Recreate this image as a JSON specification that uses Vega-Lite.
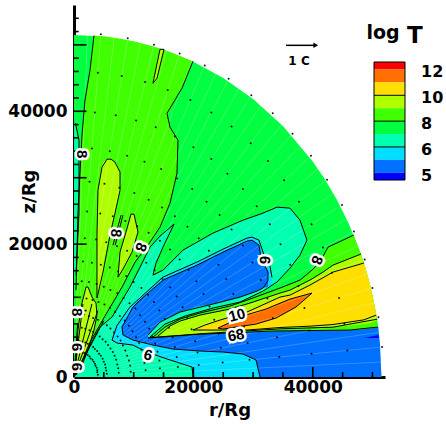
{"$schema":"https://vega.github.io/schema/vega-lite/v6.json","width":311,"height":372,"autosize":"none","padding":{"left":74,"top":5,"right":61,"bottom":47},"background":"white","view":{"stroke":null},
"datasets":{
"bands":[{"b":"7","id":"a01","x":0,"y":51500,"y2":0},{"b":"7","id":"a01","x":5000,"y":51257,"y2":0},{"b":"7","id":"a01","x":10000,"y":50520,"y2":0},{"b":"7","id":"a01","x":15000,"y":49267,"y2":0},{"b":"7","id":"a01","x":20000,"y":47460,"y2":0},{"b":"7","id":"a01","x":25000,"y":45025,"y2":0},{"b":"7","id":"a01","x":30000,"y":41860,"y2":0},{"b":"7","id":"a01","x":35000,"y":37780,"y2":0},{"b":"7","id":"a01","x":40000,"y":32440,"y2":0},{"b":"7","id":"a01","x":42000,"y":29800,"y2":0},{"b":"7","id":"a01","x":44000,"y":26760,"y2":0},{"b":"7","id":"a01","x":46000,"y":23160,"y2":0},{"b":"7","id":"a01","x":48000,"y":18660,"y2":0},{"b":"7","id":"a01","x":49000,"y":15860,"y2":0},{"b":"7","id":"a01","x":50000,"y":12340,"y2":0},{"b":"7","id":"a01","x":50500,"y":10100,"y2":0},{"b":"7","id":"a01","x":51000,"y":7150,"y2":0},{"b":"7","id":"a01","x":51500,"y":0,"y2":0},
{"b":"8","id":"a02","x":335,"y":13080,"y2":300},{"b":"8","id":"a02","x":670,"y":24820,"y2":1050},{"b":"8","id":"a02","x":1340,"y":36400,"y2":2560},{"b":"8","id":"a02","x":1840,"y":41660,"y2":3760},{"b":"8","id":"a02","x":2680,"y":46170,"y2":5260},{"b":"8","id":"a02","x":3350,"y":51390,"y2":6320},{"b":"8","id":"a02","x":5190,"y":51240,"y2":9170},{"b":"8","id":"a02","x":8040,"y":50870,"y2":13540},{"b":"8","id":"a02","x":10220,"y":50480,"y2":17300},{"b":"8","id":"a02","x":12400,"y":49980,"y2":19850},{"b":"8","id":"a02","x":14400,"y":49450,"y2":22560},{"b":"8","id":"a02","x":16080,"y":48920,"y2":26170},{"b":"8","id":"a02","x":17250,"y":48520,"y2":30680},{"b":"8","id":"a02","x":17420,"y":48460,"y2":35640},{"b":"8","id":"a02","x":17430,"y":48450,"y2":42860},{"b":"8","id":"a02","x":18090,"y":48220,"y2":43470},{"b":"8","id":"a02","x":19930,"y":47490,"y2":47490},
{"b":"7","id":"a03","x":15580,"y":39400,"y2":39400},{"b":"7","id":"a03","x":16080,"y":39900,"y2":37600},{"b":"7","id":"a03","x":17420,"y":42860,"y2":35640},
{"b":"6","id":"a04","x":0,"y":0,"y2":0},{"b":"6","id":"a04","x":2680,"y":4810,"y2":0},{"b":"6","id":"a04","x":4360,"y":7520,"y2":0},{"b":"6","id":"a04","x":6370,"y":9020,"y2":0},{"b":"6","id":"a04","x":9380,"y":13540,"y2":0},{"b":"6","id":"a04","x":11060,"y":16540,"y2":0},{"b":"6","id":"a04","x":12730,"y":19550,"y2":0},{"b":"6","id":"a04","x":14410,"y":21210,"y2":0},{"b":"6","id":"a04","x":16750,"y":23010,"y2":0},{"b":"6","id":"a04","x":16760,"y":17750,"y2":0},{"b":"6","id":"a04","x":18260,"y":19100,"y2":0},{"b":"6","id":"a04","x":23280,"y":21660,"y2":0},{"b":"6","id":"a04","x":28310,"y":23610,"y2":0},{"b":"6","id":"a04","x":31660,"y":24670,"y2":0},{"b":"6","id":"a04","x":31670,"y":24680,"y2":12930},{"b":"6","id":"a04","x":33330,"y":25100,"y2":13690},{"b":"6","id":"a04","x":34000,"y":25570,"y2":14290},{"b":"6","id":"a04","x":36180,"y":25420,"y2":16390},{"b":"6","id":"a04","x":37860,"y":23610,"y2":18350},{"b":"6","id":"a04","x":39030,"y":20600,"y2":20600},
{"b":"7","id":"a05","x":13230,"y":15340,"y2":15340},{"b":"7","id":"a05","x":13740,"y":17150,"y2":15500},{"b":"7","id":"a05","x":14910,"y":19550,"y2":16090},{"b":"7","id":"a05","x":16750,"y":23010,"y2":17750},
{"b":"5","id":"a06","x":6370,"y":5560,"y2":5560},{"b":"5","id":"a06","x":6700,"y":7070,"y2":5380},{"b":"5","id":"a06","x":7200,"y":7740,"y2":5110},{"b":"5","id":"a06","x":8040,"y":8870,"y2":5020},{"b":"5","id":"a06","x":9380,"y":10530,"y2":4870},{"b":"5","id":"a06","x":9880,"y":11030,"y2":4810},{"b":"5","id":"a06","x":11060,"y":12030,"y2":4290},{"b":"5","id":"a06","x":12230,"y":12950,"y2":3760},{"b":"5","id":"a06","x":14910,"y":15040,"y2":2920},{"b":"5","id":"a06","x":15580,"y":15310,"y2":2710},{"b":"5","id":"a06","x":19770,"y":16970,"y2":1500},{"b":"5","id":"a06","x":19930,"y":17030,"y2":0},{"b":"5","id":"a06","x":20600,"y":17300,"y2":0},{"b":"5","id":"a06","x":24960,"y":19250,"y2":0},{"b":"5","id":"a06","x":28980,"y":20910,"y2":0},{"b":"5","id":"a06","x":29820,"y":21060,"y2":0},{"b":"5","id":"a06","x":30990,"y":20600,"y2":0},{"b":"5","id":"a06","x":31830,"y":18350,"y2":0},{"b":"5","id":"a06","x":32830,"y":16690,"y2":0},{"b":"5","id":"a06","x":33170,"y":15000,"y2":0},
{"b":"4","id":"a07","x":8040,"y":7520,"y2":7220},{"b":"4","id":"a07","x":8210,"y":7820,"y2":6320},{"b":"4","id":"a07","x":9880,"y":10530,"y2":5560},{"b":"4","id":"a07","x":11060,"y":11580,"y2":5300},{"b":"4","id":"a07","x":13230,"y":13280,"y2":4810},{"b":"4","id":"a07","x":14910,"y":14590,"y2":4510},{"b":"4","id":"a07","x":16580,"y":15250,"y2":4210},{"b":"4","id":"a07","x":20600,"y":16840,"y2":3950},{"b":"4","id":"a07","x":21100,"y":17070,"y2":3910},{"b":"4","id":"a07","x":24960,"y":18800,"y2":3760},{"b":"4","id":"a07","x":28310,"y":20180,"y2":3460},{"b":"4","id":"a07","x":28980,"y":20450,"y2":3180},{"b":"4","id":"a07","x":29820,"y":20600,"y2":2840},{"b":"4","id":"a07","x":30490,"y":20170,"y2":2560},{"b":"4","id":"a07","x":30990,"y":19850,"y2":640},{"b":"4","id":"a07","x":31160,"y":19000,"y2":0},{"b":"4","id":"a07","x":31320,"y":18050,"y2":0},{"b":"4","id":"a07","x":32500,"y":15790,"y2":0},{"b":"4","id":"a07","x":32510,"y":6920,"y2":0},{"b":"4","id":"a07","x":36180,"y":6920,"y2":0},{"b":"4","id":"a07","x":46230,"y":7070,"y2":0},{"b":"4","id":"a07","x":50950,"y":7520,"y2":0},{"b":"4","id":"a07","x":51260,"y":5000,"y2":0},{"b":"4","id":"a07","x":51500,"y":0,"y2":0},
{"b":"6","id":"a08","x":12400,"y":6320,"y2":5870},{"b":"6","id":"a08","x":14410,"y":8270,"y2":5990},{"b":"6","id":"a08","x":17760,"y":9780,"y2":6170},{"b":"6","id":"a08","x":21100,"y":10680,"y2":6440},{"b":"6","id":"a08","x":23280,"y":10980,"y2":6620},{"b":"6","id":"a08","x":26130,"y":11580,"y2":6650},{"b":"6","id":"a08","x":27810,"y":12030,"y2":6700},{"b":"6","id":"a08","x":30650,"y":12930,"y2":6800},{"b":"6","id":"a08","x":31660,"y":13390,"y2":6860},{"b":"6","id":"a08","x":33330,"y":13690,"y2":6920},
{"b":"7","id":"a09","x":12730,"y":6020,"y2":5870},{"b":"7","id":"a09","x":15240,"y":7970,"y2":6050},{"b":"7","id":"a09","x":18590,"y":9170,"y2":6210},{"b":"7","id":"a09","x":23280,"y":10380,"y2":6620},{"b":"7","id":"a09","x":26130,"y":10980,"y2":6650},{"b":"7","id":"a09","x":27810,"y":11280,"y2":6700},{"b":"7","id":"a09","x":31660,"y":12930,"y2":6860},{"b":"7","id":"a09","x":33330,"y":13690,"y2":6920},
{"b":"8","id":"a10","x":13070,"y":5870,"y2":5870},{"b":"8","id":"a10","x":15240,"y":7520,"y2":6050},{"b":"8","id":"a10","x":17760,"y":8720,"y2":6170},{"b":"8","id":"a10","x":21100,"y":9630,"y2":6440},{"b":"8","id":"a10","x":26130,"y":10680,"y2":6650},{"b":"8","id":"a10","x":29480,"y":11730,"y2":6800},{"b":"8","id":"a10","x":34510,"y":13390,"y2":6920},{"b":"8","id":"a10","x":37860,"y":14590,"y2":6920},{"b":"8","id":"a10","x":39870,"y":16090,"y2":6950},{"b":"8","id":"a10","x":41210,"y":17300,"y2":6980},{"b":"8","id":"a10","x":42550,"y":19550,"y2":7000},{"b":"8","id":"a10","x":46860,"y":21360,"y2":7060},{"b":"8","id":"a10","x":48060,"y":18500,"y2":7150},{"b":"8","id":"a10","x":48560,"y":17150,"y2":7200},{"b":"8","id":"a10","x":49580,"y":13930,"y2":7300},{"b":"8","id":"a10","x":50590,"y":9640,"y2":7420},{"b":"8","id":"a10","x":50950,"y":7520,"y2":7520},
{"b":"9","id":"a11","x":14070,"y":6170,"y2":6170},{"b":"9","id":"a11","x":16080,"y":7670,"y2":6250},{"b":"9","id":"a11","x":17760,"y":8420,"y2":6300},{"b":"9","id":"a11","x":21100,"y":9320,"y2":6500},{"b":"9","id":"a11","x":26130,"y":10230,"y2":6750},{"b":"9","id":"a11","x":29480,"y":11130,"y2":6950},{"b":"9","id":"a11","x":34510,"y":12630,"y2":7250},{"b":"9","id":"a11","x":36180,"y":13080,"y2":7350},{"b":"9","id":"a11","x":39530,"y":14590,"y2":7400},{"b":"9","id":"a11","x":41710,"y":15790,"y2":7450},{"b":"9","id":"a11","x":43380,"y":16840,"y2":7500},{"b":"9","id":"a11","x":48070,"y":18500,"y2":7900},{"b":"9","id":"a11","x":48560,"y":17150,"y2":8000},{"b":"9","id":"a11","x":49580,"y":13930,"y2":8100},{"b":"9","id":"a11","x":50590,"y":9640,"y2":8500},{"b":"9","id":"a11","x":50800,"y":8700,"y2":8700},
{"b":"10","id":"a12","x":19930,"y":7070,"y2":7070},{"b":"10","id":"a12","x":21940,"y":7820,"y2":7070},{"b":"10","id":"a12","x":24460,"y":8570,"y2":7070},{"b":"10","id":"a12","x":28980,"y":9780,"y2":7070},{"b":"10","id":"a12","x":34510,"y":12030,"y2":7450},{"b":"10","id":"a12","x":36180,"y":12330,"y2":7520},{"b":"10","id":"a12","x":39530,"y":13840,"y2":7650},{"b":"10","id":"a12","x":43380,"y":15790,"y2":7900},{"b":"10","id":"a12","x":48560,"y":17150,"y2":8600},{"b":"10","id":"a12","x":49580,"y":13930,"y2":8800},{"b":"10","id":"a12","x":50590,"y":9640,"y2":9300},
{"b":"11","id":"a13","x":24120,"y":7370,"y2":7370},{"b":"11","id":"a13","x":24960,"y":7670,"y2":7220},{"b":"11","id":"a13","x":28810,"y":9320,"y2":7720},{"b":"11","id":"a13","x":30490,"y":9650,"y2":7970},{"b":"11","id":"a13","x":32160,"y":10230,"y2":8420},{"b":"11","id":"a13","x":33840,"y":10830,"y2":8870},{"b":"11","id":"a13","x":36180,"y":11730,"y2":10000},{"b":"11","id":"a13","x":37190,"y":11900,"y2":10530},{"b":"11","id":"a13","x":39870,"y":12630,"y2":12630},
{"b":"3","id":"a14","x":48580,"y":5870,"y2":5870},{"b":"3","id":"a14","x":51050,"y":6320,"y2":5870}],
"lobes":[{"b":"9","id":"h1","y":32790,"x":5530,"x2":6200},{"b":"9","id":"h1","y":32340,"x":4860,"x2":6870},{"b":"9","id":"h1","y":31580,"x":4690,"x2":7370},{"b":"9","id":"h1","y":30830,"x":4440,"x2":7710},{"b":"9","id":"h1","y":28120,"x":4020,"x2":7710},{"b":"9","id":"h1","y":24670,"x":3940,"x2":6870},{"b":"9","id":"h1","y":21360,"x":3850,"x2":6030},{"b":"9","id":"h1","y":17600,"x":3850,"x2":5190},{"b":"9","id":"h1","y":15790,"x":3850,"x2":4860},{"b":"9","id":"h1","y":13840,"x":3850,"x2":4520},{"b":"9","id":"h1","y":11880,"x":3850,"x2":3850},
{"b":"9","id":"h2","y":24520,"x":9550,"x2":10050},{"b":"9","id":"h2","y":22860,"x":9050,"x2":10470},{"b":"9","id":"h2","y":21810,"x":8710,"x2":10720},{"b":"9","id":"h2","y":18800,"x":7710,"x2":9720},{"b":"9","id":"h2","y":16240,"x":7450,"x2":8210},{"b":"9","id":"h2","y":15040,"x":7370,"x2":7370},
{"b":"9","id":"h3","y":13540,"x":2010,"x2":2350},{"b":"9","id":"h3","y":12030,"x":1510,"x2":3020},{"b":"9","id":"h3","y":11130,"x":1340,"x2":3690},{"b":"9","id":"h3","y":9320,"x":1010,"x2":3850},{"b":"9","id":"h3","y":7070,"x":670,"x2":3350},{"b":"9","id":"h3","y":4060,"x":500,"x2":2350},{"b":"9","id":"h3","y":1800,"x":340,"x2":1340},{"b":"9","id":"h3","y":300,"x":170,"x2":340},
{"b":"9","id":"h4","y":49330,"x":14410,"x2":15080},{"b":"9","id":"h4","y":44970,"x":13400,"x2":13900},{"b":"9","id":"h4","y":44220,"x":13230,"x2":13230},
{"b":"6","id":"h5","y":38200,"x":80,"x2":250},{"b":"6","id":"h5","y":35640,"x":80,"x2":840},{"b":"6","id":"h5","y":24820,"x":80,"x2":840},{"b":"6","id":"h5","y":15340,"x":80,"x2":340}],
"contours":[{"id":"c01","x":335,"y":13080},{"id":"c01","x":670,"y":24820},{"id":"c01","x":1340,"y":36400},{"id":"c01","x":1840,"y":41660},{"id":"c01","x":2680,"y":46170},{"id":"c01","x":3350,"y":51390},
{"id":"c02","x":19930,"y":47530},{"id":"c02","x":18090,"y":43470},{"id":"c02","x":15580,"y":39700},{"id":"c02","x":16080,"y":37600},{"id":"c02","x":17420,"y":35640},{"id":"c02","x":17250,"y":30680},{"id":"c02","x":16080,"y":26170},{"id":"c02","x":14410,"y":22560},{"id":"c02","x":12400,"y":19850},{"id":"c02","x":10220,"y":17300},{"id":"c02","x":8040,"y":13540},{"id":"c02","x":5190,"y":9170},{"id":"c02","x":2680,"y":5260},{"id":"c02","x":335,"y":300},
{"id":"c03","x":0,"y":0},{"id":"c03","x":2680,"y":4810},{"id":"c03","x":4360,"y":7520},{"id":"c03","x":6370,"y":9020},{"id":"c03","x":9380,"y":13540},{"id":"c03","x":11060,"y":16540},{"id":"c03","x":12730,"y":19550},{"id":"c03","x":14410,"y":21210},{"id":"c03","x":16750,"y":23010},{"id":"c03","x":14910,"y":19550},{"id":"c03","x":13740,"y":17150},{"id":"c03","x":13230,"y":15340},{"id":"c03","x":14910,"y":16090},{"id":"c03","x":18260,"y":19100},{"id":"c03","x":23280,"y":21660},{"id":"c03","x":28310,"y":23610},{"id":"c03","x":31660,"y":24670},{"id":"c03","x":34000,"y":25570},{"id":"c03","x":36180,"y":25420},{"id":"c03","x":37860,"y":23610},{"id":"c03","x":39030,"y":20600},{"id":"c03","x":37860,"y":18350},{"id":"c03","x":36180,"y":16390},{"id":"c03","x":34000,"y":14290},{"id":"c03","x":31660,"y":12930},{"id":"c03","x":27810,"y":11280},{"id":"c03","x":23280,"y":10380},{"id":"c03","x":18590,"y":9170},{"id":"c03","x":15240,"y":7970},{"id":"c03","x":12730,"y":6020},
{"id":"c04","x":31160,"y":0},{"id":"c04","x":30490,"y":2560},{"id":"c04","x":28310,"y":3460},{"id":"c04","x":24960,"y":3760},{"id":"c04","x":21100,"y":3910},{"id":"c04","x":16580,"y":4210},{"id":"c04","x":13230,"y":4810},{"id":"c04","x":9880,"y":5560},{"id":"c04","x":8210,"y":6320},{"id":"c04","x":8040,"y":7520},{"id":"c04","x":9880,"y":10530},{"id":"c04","x":11060,"y":11580},{"id":"c04","x":14910,"y":14590},{"id":"c04","x":20600,"y":16840},{"id":"c04","x":24960,"y":18800},{"id":"c04","x":28980,"y":20450},{"id":"c04","x":29820,"y":20600},{"id":"c04","x":30990,"y":19850},{"id":"c04","x":31320,"y":18050},{"id":"c04","x":32500,"y":15790},{"id":"c04","x":32500,"y":14500},{"id":"c04","x":31660,"y":13390},{"id":"c04","x":30650,"y":12930},{"id":"c04","x":27810,"y":12030},{"id":"c04","x":23280,"y":10980},{"id":"c04","x":17760,"y":9780},{"id":"c04","x":14410,"y":8270},{"id":"c04","x":12400,"y":6320},
{"id":"c05","x":19930,"y":0},{"id":"c05","x":19770,"y":1500},{"id":"c05","x":15580,"y":2710},{"id":"c05","x":12230,"y":3760},{"id":"c05","x":9880,"y":4810},{"id":"c05","x":7200,"y":5110},{"id":"c05","x":6370,"y":5560},{"id":"c05","x":7200,"y":7740},{"id":"c05","x":9380,"y":10530},{"id":"c05","x":14910,"y":15040},{"id":"c05","x":20600,"y":17300},{"id":"c05","x":24960,"y":19250},{"id":"c05","x":28980,"y":20910},{"id":"c05","x":29820,"y":21060},{"id":"c05","x":30990,"y":20600},{"id":"c05","x":31830,"y":18350},{"id":"c05","x":32830,"y":16690},{"id":"c05","x":33170,"y":15000},
{"id":"c06","x":13070,"y":5870},{"id":"c06","x":15240,"y":7520},{"id":"c06","x":17760,"y":8720},{"id":"c06","x":21100,"y":9630},{"id":"c06","x":26130,"y":10680},{"id":"c06","x":29480,"y":11730},{"id":"c06","x":34510,"y":13390},{"id":"c06","x":37860,"y":14590},{"id":"c06","x":39870,"y":16090},{"id":"c06","x":41210,"y":17300},{"id":"c06","x":42550,"y":19550},{"id":"c06","x":46860,"y":21360},
{"id":"c07","x":14070,"y":6170},{"id":"c07","x":16080,"y":7670},{"id":"c07","x":17760,"y":8420},{"id":"c07","x":21100,"y":9320},{"id":"c07","x":26130,"y":10230},{"id":"c07","x":29480,"y":11130},{"id":"c07","x":34510,"y":12630},{"id":"c07","x":36180,"y":13080},{"id":"c07","x":39530,"y":14590},{"id":"c07","x":41710,"y":15790},{"id":"c07","x":43380,"y":16840},{"id":"c07","x":48070,"y":18500},
{"id":"c08","x":19930,"y":7070},{"id":"c08","x":21940,"y":7820},{"id":"c08","x":24460,"y":8570},{"id":"c08","x":28980,"y":9780},{"id":"c08","x":34510,"y":12030},{"id":"c08","x":36180,"y":12330},{"id":"c08","x":39530,"y":13840},{"id":"c08","x":43380,"y":15790},{"id":"c08","x":48560,"y":17150},
{"id":"c09","x":19930,"y":7070},{"id":"c09","x":28980,"y":7070},{"id":"c09","x":34510,"y":7450},{"id":"c09","x":39530,"y":7650},{"id":"c09","x":43380,"y":7900},{"id":"c09","x":48560,"y":8600},{"id":"c09","x":50590,"y":9300},
{"id":"c10","x":12400,"y":5870},{"id":"c10","x":21100,"y":6440},{"id":"c10","x":33330,"y":6920},{"id":"c10","x":46230,"y":7070},{"id":"c10","x":50950,"y":7520},
{"id":"c11","x":12400,"y":5900},{"id":"c11","x":21100,"y":6500},{"id":"c11","x":34510,"y":7250},{"id":"c11","x":43380,"y":7500},{"id":"c11","x":50800,"y":8700},
{"id":"c12","x":24120,"y":7370},{"id":"c12","x":28810,"y":9320},{"id":"c12","x":32160,"y":10230},{"id":"c12","x":36180,"y":11730},{"id":"c12","x":39870,"y":12630},{"id":"c12","x":37190,"y":10530},{"id":"c12","x":33840,"y":8870},{"id":"c12","x":30490,"y":7970},{"id":"c12","x":24960,"y":7220},{"id":"c12","x":24120,"y":7370},
{"id":"c13","x":3850,"y":11880},{"id":"c13","x":3850,"y":21360},{"id":"c13","x":4020,"y":28120},{"id":"c13","x":4690,"y":31580},{"id":"c13","x":5530,"y":32790},{"id":"c13","x":6200,"y":32790},{"id":"c13","x":6870,"y":32340},{"id":"c13","x":7710,"y":30830},{"id":"c13","x":7710,"y":28120},{"id":"c13","x":6870,"y":24670},{"id":"c13","x":6030,"y":21360},{"id":"c13","x":4860,"y":15790},{"id":"c13","x":3850,"y":11880},
{"id":"c14","x":7370,"y":15040},{"id":"c14","x":7710,"y":18800},{"id":"c14","x":8710,"y":21810},{"id":"c14","x":9550,"y":24520},{"id":"c14","x":10050,"y":24520},{"id":"c14","x":10720,"y":21810},{"id":"c14","x":9720,"y":18800},{"id":"c14","x":8210,"y":16240},{"id":"c14","x":7370,"y":15040},
{"id":"c15","x":170,"y":300},{"id":"c15","x":500,"y":4060},{"id":"c15","x":670,"y":7070},{"id":"c15","x":1010,"y":9320},{"id":"c15","x":1340,"y":11130},{"id":"c15","x":2010,"y":13540},{"id":"c15","x":2350,"y":13540},{"id":"c15","x":3020,"y":12030},{"id":"c15","x":3690,"y":11130},{"id":"c15","x":3850,"y":9320},{"id":"c15","x":3350,"y":7070},{"id":"c15","x":2350,"y":4060},{"id":"c15","x":1340,"y":1800},{"id":"c15","x":340,"y":300},
{"id":"c16","x":14410,"y":49330},{"id":"c16","x":15080,"y":49330},{"id":"c16","x":13900,"y":44970},{"id":"c16","x":13230,"y":44220},{"id":"c16","x":13400,"y":44970},{"id":"c16","x":14410,"y":49330},
{"id":"c17","x":7870,"y":24360},{"id":"c17","x":6530,"y":19850},{"id":"c18","x":8200,"y":24360},{"id":"c18","x":6900,"y":19850},
{"id":"c19","x":250,"y":38200},{"id":"c19","x":840,"y":35640},{"id":"c19","x":840,"y":24820},{"id":"c19","x":340,"y":15340},
{"id":"c20","x":0,"y":0},{"id":"c20","x":3000,"y":11000},{"id":"c21","x":0,"y":0},{"id":"c21","x":1500,"y":11000},{"id":"c22","x":0,"y":0},{"id":"c22","x":5000,"y":8500},{"id":"c23","x":0,"y":0},{"id":"c23","x":600,"y":8000},{"id":"c24","x":0,"y":0},{"id":"c24","x":4000,"y":10000}],
"vectors":[{"x":45800,"y":4000},{"x":45300,"y":8000},{"x":44400,"y":11900},{"x":43200,"y":15700},{"x":41700,"y":19500},{"x":39800,"y":23000},{"x":37700,"y":26400},{"x":35200,"y":29600},{"x":32500,"y":32500},{"x":29600,"y":35200},{"x":26400,"y":37700},{"x":23000,"y":39800},{"x":19500,"y":41700},{"x":15700,"y":43200},{"x":11900,"y":44400},{"x":8000,"y":45300},{"x":4000,"y":45800},
{"x":39800,"y":3500},{"x":39400,"y":7000},{"x":38600,"y":10400},{"x":37600,"y":13700},{"x":36200,"y":16900},{"x":34600,"y":20000},{"x":32800,"y":23000},{"x":30600,"y":25700},{"x":28300,"y":28300},{"x":25700,"y":30600},{"x":23000,"y":32800},{"x":20000,"y":34600},{"x":16900,"y":36200},{"x":13700,"y":37600},{"x":10400,"y":38600},{"x":7000,"y":39400},{"x":3500,"y":39800},
{"x":34400,"y":3000},{"x":34000,"y":6000},{"x":33300,"y":8900},{"x":32400,"y":11800},{"x":31300,"y":14600},{"x":29900,"y":17250},{"x":28300,"y":19800},{"x":26400,"y":22200},{"x":24400,"y":24400},{"x":22200,"y":26400},{"x":19800,"y":28300},{"x":17250,"y":29900},{"x":14600,"y":31300},{"x":11800,"y":32400},{"x":8900,"y":33300},{"x":6000,"y":34000},{"x":3000,"y":34400},
{"x":29400,"y":2600},{"x":29100,"y":5100},{"x":28500,"y":7600},{"x":27700,"y":10100},{"x":26700,"y":12500},{"x":25500,"y":14750},{"x":24200,"y":16900},{"x":22600,"y":19000},{"x":20900,"y":20900},{"x":19000,"y":22600},{"x":16900,"y":24200},{"x":14750,"y":25500},{"x":12500,"y":26700},{"x":10100,"y":27700},{"x":7600,"y":28500},{"x":5100,"y":29100},{"x":2600,"y":29400},
{"x":24900,"y":2200},{"x":24600,"y":4400},{"x":24200,"y":6500},{"x":23500,"y":8600},{"x":22700,"y":10600},{"x":21700,"y":12500},{"x":20500,"y":14400},{"x":19200,"y":16100},{"x":17700,"y":17700},{"x":16100,"y":19200},{"x":14400,"y":20500},{"x":12500,"y":21700},{"x":10600,"y":22700},{"x":8600,"y":23500},{"x":6500,"y":24200},{"x":4400,"y":24600},{"x":2200,"y":24900},
{"x":20900,"y":1800},{"x":20700,"y":3700},{"x":20300,"y":5400},{"x":19700,"y":7200},{"x":19000,"y":8900},{"x":18200,"y":10500},{"x":17200,"y":12100},{"x":16100,"y":13500},{"x":14800,"y":14800},{"x":13500,"y":16100},{"x":12100,"y":17200},{"x":10500,"y":18200},{"x":8900,"y":19000},{"x":7200,"y":19700},{"x":5400,"y":20300},{"x":3700,"y":20700},{"x":1800,"y":20900},
{"x":17400,"y":1500},{"x":17200,"y":3000},{"x":16900,"y":4500},{"x":16500,"y":6000},{"x":15900,"y":7400},{"x":15200,"y":8750},{"x":14300,"y":10000},{"x":13400,"y":11300},{"x":12400,"y":12400},{"x":11300,"y":13400},{"x":10000,"y":14300},{"x":8750,"y":15200},{"x":7400,"y":15900},{"x":6000,"y":16500},{"x":4500,"y":16900},{"x":3000,"y":17200},{"x":1500,"y":17400},
{"x":14400,"y":1300},{"x":14300,"y":2500},{"x":14000,"y":3800},{"x":13600,"y":5000},{"x":13100,"y":6100},{"x":12600,"y":7250},{"x":11900,"y":8300},{"x":11100,"y":9300},{"x":10300,"y":10300},{"x":9300,"y":11100},{"x":8300,"y":11900},{"x":7250,"y":12600},{"x":6100,"y":13100},{"x":5000,"y":13600},{"x":3800,"y":14000},{"x":2500,"y":14300},{"x":1300,"y":14400},
{"x":12000,"y":1000},{"x":11800,"y":2100},{"x":11600,"y":3100},{"x":11300,"y":4100},{"x":10900,"y":5100},{"x":10400,"y":6000},{"x":9800,"y":6900},{"x":9200,"y":7700},{"x":8500,"y":8500},{"x":7700,"y":9200},{"x":6900,"y":9800},{"x":6000,"y":10400},{"x":5100,"y":10900},{"x":4100,"y":11300},{"x":3100,"y":11600},{"x":2100,"y":11800},{"x":1000,"y":12000},
{"x":9500,"y":800},{"x":9400,"y":1700},{"x":9200,"y":2500},{"x":8900,"y":3200},{"x":8600,"y":4000},{"x":8200,"y":4750},{"x":7800,"y":5500},{"x":7300,"y":6100},{"x":6700,"y":6700},{"x":6100,"y":7300},{"x":5500,"y":7800},{"x":4750,"y":8200},{"x":4000,"y":8600},{"x":3200,"y":8900},{"x":2500,"y":9200},{"x":1700,"y":9400},{"x":800,"y":9500},
{"x":7500,"y":650},{"x":7400,"y":1300},{"x":7250,"y":1900},{"x":7050,"y":2600},{"x":6800,"y":3200},{"x":6500,"y":3750},{"x":6100,"y":4300},{"x":5700,"y":4800},{"x":5300,"y":5300},{"x":4800,"y":5700},{"x":4300,"y":6100},{"x":3750,"y":6500},{"x":3200,"y":6800},{"x":2600,"y":7050},{"x":1900,"y":7250},{"x":1300,"y":7400},{"x":650,"y":7500},
{"x":5500,"y":480},{"x":5400,"y":960},{"x":5300,"y":1400},{"x":5200,"y":1900},{"x":5000,"y":2300},{"x":4800,"y":2750},{"x":4500,"y":3200},{"x":4200,"y":3500},{"x":3900,"y":3900},{"x":3500,"y":4200},{"x":3200,"y":4500},{"x":2750,"y":4800},{"x":2300,"y":5000},{"x":1900,"y":5200},{"x":1400,"y":5300},{"x":960,"y":5400},{"x":480,"y":5500},
{"x":4000,"y":350},{"x":3900,"y":700},{"x":3900,"y":1000},{"x":3800,"y":1400},{"x":3600,"y":1700},{"x":3500,"y":2000},{"x":3300,"y":2300},{"x":3100,"y":2600},{"x":2800,"y":2800},{"x":2600,"y":3100},{"x":2300,"y":3300},{"x":2000,"y":3500},{"x":1700,"y":3600},{"x":1400,"y":3800},{"x":1000,"y":3900},{"x":700,"y":3900},{"x":350,"y":4000},
{"x":51600,"y":4500},{"x":51000,"y":9000},{"x":50000,"y":13400},{"x":48700,"y":17700},{"x":46900,"y":21900},{"x":44900,"y":25900},{"x":42400,"y":29700},{"x":39700,"y":33300},{"x":36600,"y":36600},{"x":33300,"y":39700},{"x":29700,"y":42400},{"x":25900,"y":44900},{"x":21900,"y":46900},{"x":17700,"y":48700},{"x":13400,"y":50000},{"x":9000,"y":51000},{"x":4500,"y":51600}],
"mesh":[{"x":7970,"y":350,"x2":51450,"y2":2250},{"x":7950,"y":690,"x2":51300,"y2":4480},{"x":7910,"y":1040,"x2":51060,"y2":6720},{"x":7860,"y":1390,"x2":50730,"y2":8960},{"x":7790,"y":1730,"x2":50280,"y2":11140},{"x":7710,"y":2070,"x2":49750,"y2":13340},{"x":7610,"y":2400,"x2":49120,"y2":15490},{"x":7500,"y":2730,"x2":48390,"y2":17610},{"x":7370,"y":3060,"x2":47580,"y2":19710},{"x":7230,"y":3380,"x2":46660,"y2":21780},{"x":7080,"y":3690,"x2":45680,"y2":23780},{"x":6910,"y":3990,"x2":44600,"y2":25750},{"x":6730,"y":4290,"x2":43440,"y2":27670},{"x":6540,"y":4580,"x2":42180,"y2":29560},{"x":6330,"y":4860,"x2":40860,"y2":31350},{"x":6110,"y":5130,"x2":39450,"y2":33110},{"x":5890,"y":5390,"x2":37970,"y2":34790},{"x":5640,"y":5640,"x2":36410,"y2":36410},{"x":5390,"y":5890,"x2":34790,"y2":37970},{"x":5130,"y":6110,"x2":33110,"y2":39450},{"x":4860,"y":6330,"x2":31350,"y2":40860},{"x":4580,"y":6540,"x2":29560,"y2":42180},{"x":4290,"y":6730,"x2":27670,"y2":43440},{"x":3990,"y":6910,"x2":25750,"y2":44600},{"x":3690,"y":7080,"x2":23780,"y2":45680},{"x":3380,"y":7230,"x2":21780,"y2":46660},{"x":3060,"y":7370,"x2":19710,"y2":47580},{"x":2730,"y":7500,"x2":17610,"y2":48390},{"x":2400,"y":7610,"x2":15490,"y2":49120},{"x":2070,"y":7710,"x2":13340,"y2":49750},{"x":1730,"y":7790,"x2":11140,"y2":50280},{"x":1390,"y":7860,"x2":8960,"y2":50730},{"x":1040,"y":7910,"x2":6720,"y2":51060},{"x":690,"y":7950,"x2":4480,"y2":51300},{"x":350,"y":7970,"x2":2250,"y2":51450}],
"ticks":[{"x":5000,"x2":5000,"y":0,"y2":750},{"x":10000,"x2":10000,"y":0,"y2":750},{"x":15000,"x2":15000,"y":0,"y2":750},{"x":20000,"x2":20000,"y":0,"y2":1500},{"x":25000,"x2":25000,"y":0,"y2":750},{"x":30000,"x2":30000,"y":0,"y2":750},{"x":35000,"x2":35000,"y":0,"y2":750},{"x":40000,"x2":40000,"y":0,"y2":1500},{"x":45000,"x2":45000,"y":0,"y2":750},{"x":50000,"x2":50000,"y":0,"y2":750},
{"x":0,"x2":800,"y":2000,"y2":2000},{"x":0,"x2":800,"y":4000,"y2":4000},{"x":0,"x2":800,"y":6000,"y2":6000},{"x":0,"x2":800,"y":8000,"y2":8000},{"x":0,"x2":2100,"y":10000,"y2":10000},{"x":0,"x2":800,"y":12000,"y2":12000},{"x":0,"x2":800,"y":14000,"y2":14000},{"x":0,"x2":800,"y":16000,"y2":16000},{"x":0,"x2":800,"y":18000,"y2":18000},{"x":0,"x2":2100,"y":20000,"y2":20000},{"x":0,"x2":800,"y":22000,"y2":22000},{"x":0,"x2":800,"y":24000,"y2":24000},{"x":0,"x2":800,"y":26000,"y2":26000},{"x":0,"x2":800,"y":28000,"y2":28000},{"x":0,"x2":2100,"y":30000,"y2":30000},{"x":0,"x2":800,"y":32000,"y2":32000},{"x":0,"x2":800,"y":34000,"y2":34000},{"x":0,"x2":800,"y":36000,"y2":36000},{"x":0,"x2":800,"y":38000,"y2":38000},{"x":0,"x2":2100,"y":40000,"y2":40000},{"x":0,"x2":800,"y":42000,"y2":42000},{"x":0,"x2":800,"y":44000,"y2":44000},{"x":0,"x2":800,"y":46000,"y2":46000},{"x":0,"x2":800,"y":48000,"y2":48000},{"x":0,"x2":2100,"y":50000,"y2":50000},{"x":0,"x2":800,"y":52000,"y2":52000},{"x":0,"x2":800,"y":54000,"y2":54000}],
"labels":[{"x":1340,"y":33540,"t":"8","a":90},{"x":7040,"y":21660,"t":"8","a":95},{"x":11220,"y":19550,"t":"8","a":110},{"x":12400,"y":3310,"t":"6","a":15},{"x":31990,"y":17600,"t":"6","a":95},{"x":40700,"y":17600,"t":"8","a":110},{"x":27300,"y":9320,"t":"10","a":-15},{"x":27140,"y":6320,"t":"68","a":-10},{"x":500,"y":9750,"t":"8","a":90},{"x":500,"y":4500,"t":"6","a":90},{"x":500,"y":1500,"t":"6","a":90}]
},
"layer":[
{"layer":[
{"data":{"name":"bands"},"mark":{"type":"area","clip":false},"encoding":{"x":{"field":"x","type":"quantitative","scale":{"domain":[0,52100],"nice":false},"axis":{"values":[0,20000,40000],"format":"d","grid":false,"ticks":false,"domainWidth":3,"domainColor":"black","labelFont":"DejaVu Sans","labelFontWeight":"bold","labelFontSize":17,"labelColor":"black","labelPadding":2,"labelFlush":false,"labelOverlap":false,"title":"r/Rg","titleFont":"DejaVu Sans","titleFontWeight":"bold","titleFontSize":18,"titleColor":"black","titlePadding":6}},"y":{"field":"y","type":"quantitative","stack":null,"scale":{"domain":[0,56000],"nice":false},"axis":{"values":[0,20000,40000],"format":"d","grid":false,"ticks":false,"domainWidth":3,"domainColor":"black","labelFont":"DejaVu Sans","labelFontWeight":"bold","labelFontSize":17,"labelColor":"black","labelPadding":7,"labelFlush":false,"labelOverlap":false,"title":"z/Rg","titleFont":"DejaVu Sans","titleFontWeight":"bold","titleFontSize":18,"titleColor":"black","titleX":-40,"titleY":186,"titleAlign":"center","titleBaseline":"alphabetic"}},"y2":{"field":"y2"},"detail":{"field":"id"},"color":{"field":"b","type":"nominal","legend":null,"scale":{"domain":["3","4","5","6","7","8","9","10","11","12"],"range":["#0000ff","#0070ff","#00dfff","#00ffb0","#00ff40","#40ff00","#b0ff00","#ffdf00","#ff7000","#ff0000"]}}}},
{"data":{"name":"lobes"},"mark":{"type":"area","orient":"horizontal"},"encoding":{"y":{"field":"y","type":"quantitative","stack":null},"x":{"field":"x","type":"quantitative","stack":null},"x2":{"field":"x2"},"detail":{"field":"id"},"color":{"field":"b","type":"nominal","legend":null}}},
{"data":{"name":"mesh"},"mark":{"type":"rule","color":"white","opacity":0.2,"strokeWidth":1},"encoding":{"x":{"field":"x","type":"quantitative"},"y":{"field":"y","type":"quantitative"},"x2":{"field":"x2"},"y2":{"field":"y2"}}},
{"data":{"name":"contours"},"transform":[{"window":[{"op":"row_number","as":"seq"}]}],"mark":{"type":"line","color":"black","strokeWidth":1},"encoding":{"x":{"field":"x","type":"quantitative"},"y":{"field":"y","type":"quantitative"},"detail":{"field":"id"},"order":{"field":"seq","type":"quantitative"}}},
{"data":{"name":"vectors"},"mark":{"type":"point","filled":true,"color":"black","opacity":0.9,"size":4},"encoding":{"x":{"field":"x","type":"quantitative"},"y":{"field":"y","type":"quantitative"}}},
{"data":{"name":"ticks"},"mark":{"type":"rule","color":"black","strokeWidth":1.6},"encoding":{"x":{"field":"x","type":"quantitative"},"y":{"field":"y","type":"quantitative"},"x2":{"field":"x2"},"y2":{"field":"y2"}}},
{"data":{"name":"labels"},"mark":{"type":"text","font":"Liberation Sans","fontWeight":"bold","fontSize":15,"stroke":"white","strokeWidth":5,"baseline":"middle"},"encoding":{"x":{"field":"x","type":"quantitative"},"y":{"field":"y","type":"quantitative"},"text":{"field":"t"},"angle":{"field":"a","type":"quantitative","scale":null}}},
{"data":{"name":"labels"},"mark":{"type":"text","font":"Liberation Sans","fontWeight":"bold","fontSize":15,"color":"black","baseline":"middle"},"encoding":{"x":{"field":"x","type":"quantitative"},"y":{"field":"y","type":"quantitative"},"text":{"field":"t"},"angle":{"field":"a","type":"quantitative","scale":null}}},
{"data":{"values":[{"x":35510,"x2":40500,"y":49930,"y2":49930}]},"mark":{"type":"rule","color":"black","strokeWidth":1.5},"encoding":{"x":{"field":"x","type":"quantitative"},"y":{"field":"y","type":"quantitative"},"x2":{"field":"x2"},"y2":{"field":"y2"}}},
{"data":{"values":[{"x":40500,"y":49930}]},"mark":{"type":"point","shape":"triangle-right","filled":true,"color":"black","opacity":1,"size":30},"encoding":{"x":{"field":"x","type":"quantitative"},"y":{"field":"y","type":"quantitative"}}},
{"data":{"values":[{"x":37700,"y":47500,"t":"1 C"}]},"mark":{"type":"text","font":"DejaVu Sans","fontWeight":"bold","fontSize":12,"color":"black","baseline":"middle"},"encoding":{"x":{"field":"x","type":"quantitative"},"y":{"field":"y","type":"quantitative"},"text":{"field":"t"}}}
]},
{"layer":[
{"data":{"values":[{"b":"12","lo":12,"hi":12.58},{"b":"11","lo":11,"hi":12},{"b":"10","lo":10,"hi":11},{"b":"9","lo":9,"hi":10},{"b":"8","lo":8,"hi":9},{"b":"7","lo":7,"hi":8},{"b":"6","lo":6,"hi":7},{"b":"5","lo":5,"hi":6},{"b":"4","lo":4,"hi":5},{"b":"3","lo":3.44,"hi":4}]},"mark":{"type":"rect"},"encoding":{"x":{"datum":0,"type":"quantitative","scale":{"domain":[0,1],"range":[300,331]},"axis":null},"x2":{"datum":1},"y":{"field":"lo","type":"quantitative","scale":{"domain":[3.44,12.58],"range":[175,57],"nice":false,"zero":false},"axis":null},"y2":{"field":"hi"},"color":{"field":"b","type":"nominal","legend":null,"scale":{"domain":["3","4","5","6","7","8","9","10","11","12"],"range":["#0000ff","#0070ff","#00dfff","#00ffb0","#00ff40","#40ff00","#b0ff00","#ffdf00","#ff7000","#ff0000"]}}}},
{"data":{"values":[{"lo":3.44,"hi":12.58}]},"mark":{"type":"rect","fill":null,"stroke":"black","strokeWidth":1},"encoding":{"x":{"datum":0,"type":"quantitative"},"x2":{"datum":1},"y":{"field":"lo","type":"quantitative"},"y2":{"field":"hi"}}},
{"data":{"values":[{"v":10},{"v":8},{"v":6}]},"mark":{"type":"rule","color":"black","strokeWidth":1},"encoding":{"x":{"datum":0,"type":"quantitative"},"x2":{"datum":1},"y":{"field":"v","type":"quantitative"}}},
{"data":{"values":[{"v":12,"t":"12"},{"v":10,"t":"10"},{"v":8,"t":"8"},{"v":6,"t":"6"},{"v":4,"t":"5"}]},"mark":{"type":"text","font":"DejaVu Sans","fontWeight":"bold","fontSize":16,"color":"black","align":"left","baseline":"middle","dy":3},"encoding":{"x":{"datum":1.52,"type":"quantitative"},"y":{"field":"v","type":"quantitative"},"text":{"field":"t"}}},
{"data":{"values":[{"v":14.33,"t":"log"}]},"mark":{"type":"text","font":"DejaVu Sans","fontWeight":"bold","fontSize":19,"color":"black","align":"center","baseline":"alphabetic"},"encoding":{"x":{"datum":0.29,"type":"quantitative"},"y":{"field":"v","type":"quantitative"},"text":{"field":"t"}}},
{"data":{"values":[{"v":14.05,"t":"T"}]},"mark":{"type":"text","font":"DejaVu Sans","fontWeight":"bold","fontSize":23,"color":"black","align":"center","baseline":"alphabetic"},"encoding":{"x":{"datum":1.32,"type":"quantitative"},"y":{"field":"v","type":"quantitative"},"text":{"field":"t"}}}
]}
],
"resolve":{"scale":{"x":"independent","y":"independent","color":"independent"}}
}
